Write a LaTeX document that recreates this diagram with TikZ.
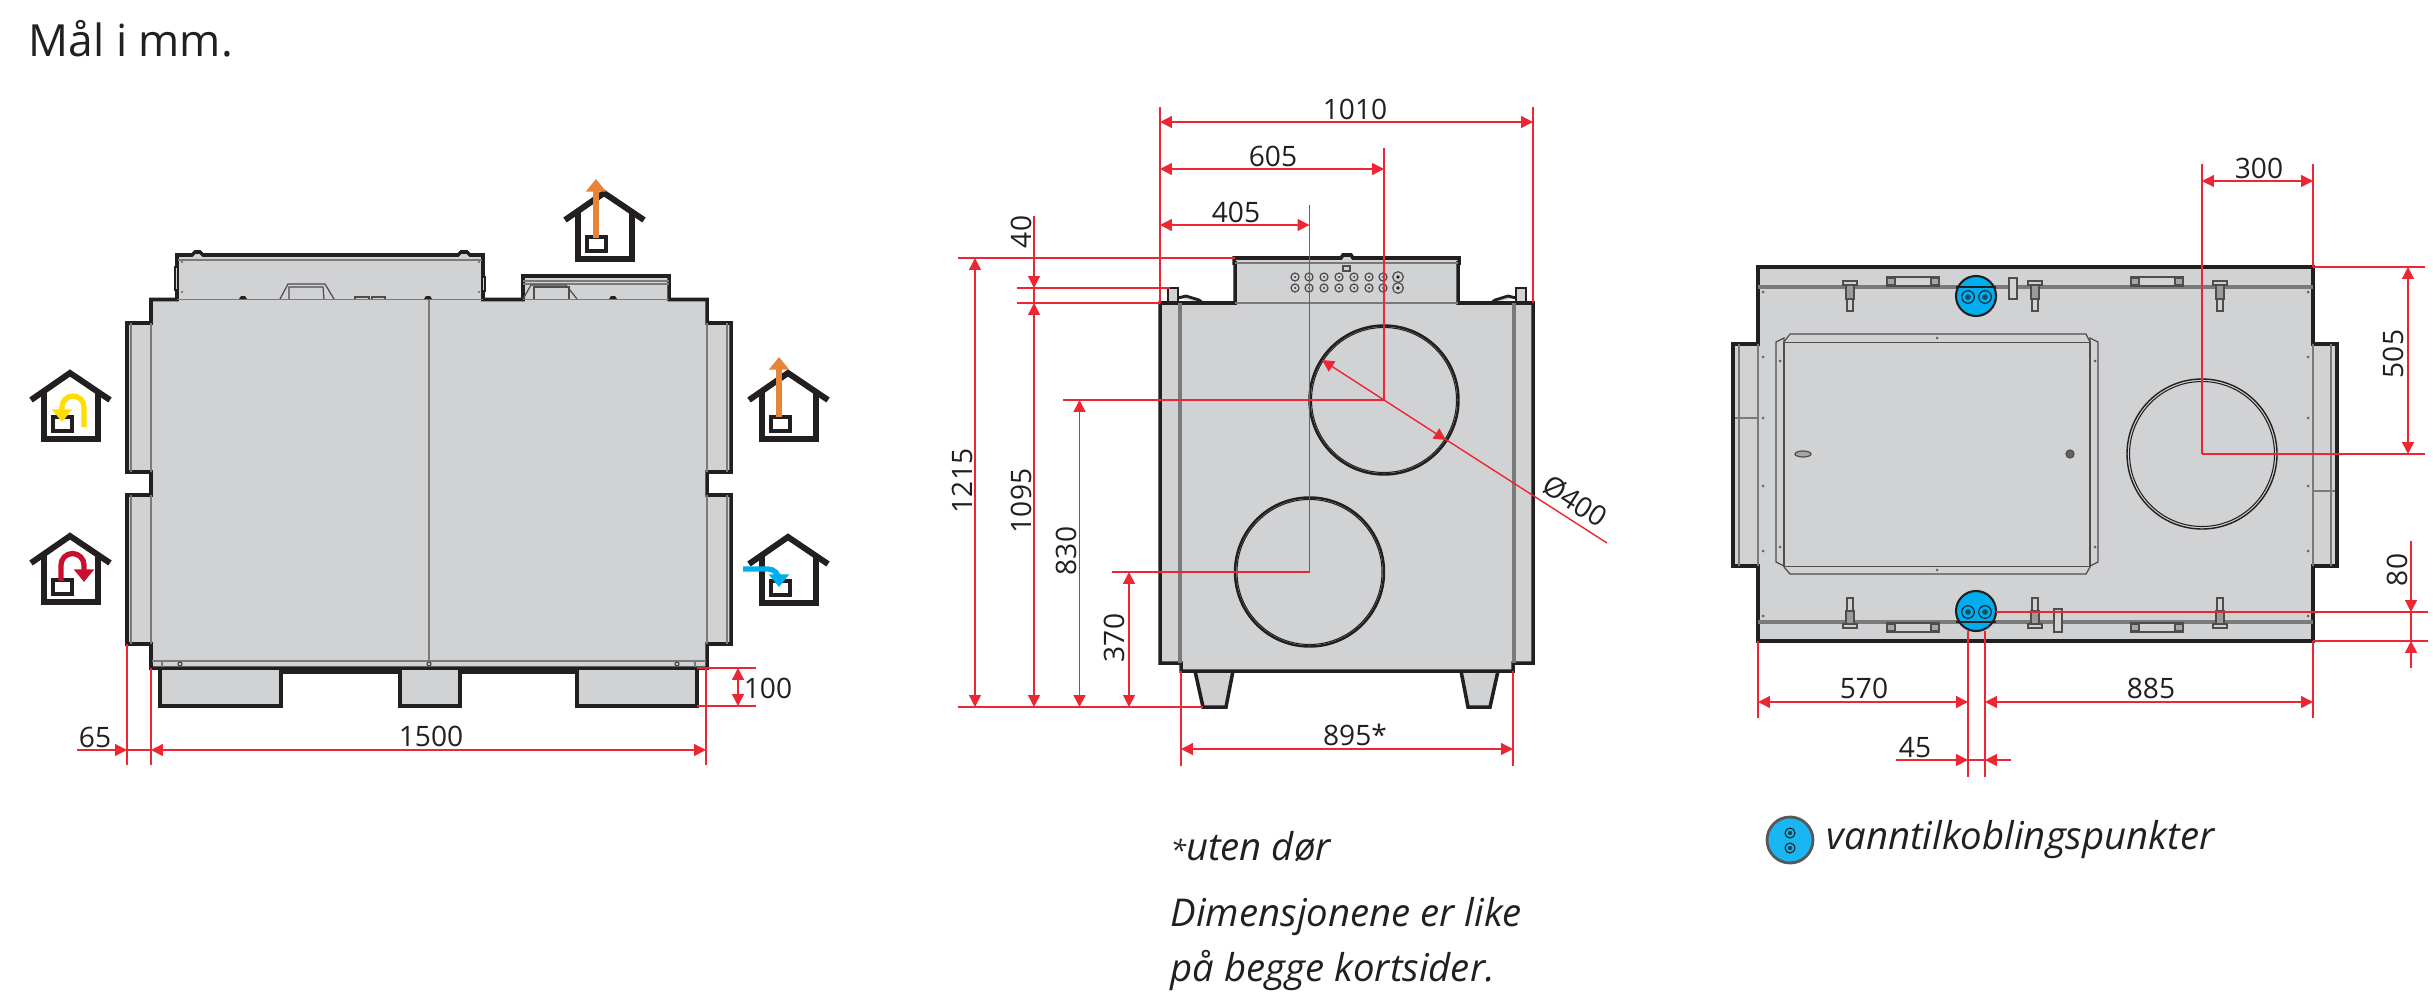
\documentclass[tikz,border=0pt]{standalone}
\usepackage{fontspec}
\setmainfont{Open Sans}
\usetikzlibrary{arrows.meta}
\definecolor{unitgray}{HTML}{D1D2D4}
\definecolor{unitline}{HTML}{231F20}
\definecolor{dimred}{HTML}{EE2533}
\definecolor{waterblue}{HTML}{00AEEF}
\definecolor{flowyellow}{HTML}{FFDD00}
\definecolor{floworange}{HTML}{E8833A}
\definecolor{flowcrimson}{HTML}{C8102E}
\tikzset{
	unit/.style={draw=unitline, fill=unitgray, line width=1pt, line join=miter},
	detail/.style={draw=unitline!80, line width=0.35pt},
	pale/.style={draw=unitline!60, line width=0.4pt},
	ext/.style={draw=dimred, line width=0.4pt},
	dim/.style={draw=dimred, line width=0.4pt, {Triangle[length=3.4pt,width=3.4pt]}-{Triangle[length=3.4pt,width=3.4pt]}},
	dimend/.style={draw=dimred, line width=0.4pt, -{Triangle[length=3.4pt,width=3.4pt]}},
	dimtext/.style={font=\fontsize{8}{10}\selectfont, text=unitline, inner sep=0pt},
	notetext/.style={font=\fontsize{10.9}{13}\selectfont\itshape, text=unitline, inner sep=0pt, anchor=west},
	flow/.style={line width=1.5pt, -{Triangle[length=3.6pt,width=5.6pt]}},
	house/.pic={
		\draw[line width=1.7pt, unitline] (-39,27) -- (0,0) -- (40,27);
		\draw[line width=1.7pt, unitline] (-26,18) -- (-26,66) -- (28,66) -- (28,18);
		\draw[line width=1.2pt, unitline, fill=white] (-17,44) rectangle (2,58);
	}
}
\begin{document}
\begin{tikzpicture}[x=0.01cm, y=-0.01cm]
	\useasboundingbox (0,0) rectangle (2433,1000);
	\node[font=\fontsize{12.6}{15}\selectfont, text=unitline, inner sep=0pt, anchor=west] (title) at (28,39) {Mål i mm.};

	% front view
	\draw[unit] (160,668) -- (160,706) -- (281,706) -- (281,672) -- (400,672) -- (400,706) -- (460,706) -- (460,672) -- (577,672) -- (577,706) -- (697,706) -- (697,668);
	\draw[unit] (151,299.5) -- (151,323) -- (127,323) -- (127,472) -- (151,472) -- (151,495) -- (127,495) -- (127,644) -- (151,644) -- (151,668) -- (707,668) -- (707,644) -- (731,644) -- (731,495) -- (707,495) -- (707,472) -- (731,472) -- (731,323) -- (707,323) -- (707,299.5) -- (669,299.5) -- (669,276) -- (523,276) -- (523,299.5) -- (483,299.5) -- (483,255) -- (470,255) -- (467,252) -- (461,252) -- (458,255) -- (203,255) -- (200,252) -- (195,252) -- (192,255) -- (177,255) -- (177,299.5) -- cycle;
	\foreach \ya/\yb in {323/472, 495/644} {
		\draw[pale] (151,\ya) -- (151,\yb);
		\draw[pale] (707,\ya) -- (707,\yb);
		\draw[pale] (131,\ya) -- (131,\yb);
		\draw[pale] (727,\ya) -- (727,\yb);
	}
	\draw[pale] (177,299.5) -- (483,299.5);
	\draw[pale] (523,299.5) -- (669,299.5);
	\draw[pale] (178,260) -- (482,260);
	\draw[pale] (523,281) -- (669,281);
	\draw[pale] (523,284) -- (669,284);
	\draw[pale] (429,299.5) -- (429,661);
	\draw[pale] (152,661) -- (706,661);
	\draw[pale] (162,661) -- (162,667);
	\draw[pale] (695,661) -- (695,667);
	\foreach \kx in {243,428,613} {
		\fill[unitline] (\kx-4,299) -- (\kx-2,296) -- (\kx+2,296) -- (\kx+4,299) -- cycle;
	}
	\foreach \kx in {180,429,677} {
		\draw[detail] (\kx,664) circle[radius=2];
	}
	\foreach \dx/\dy in {182/262, 182/292, 479/262, 479/292} {
		\fill[unitline!70] (\dx,\dy) circle[radius=1.2];
	}
	\draw[detail] (280,299) -- (288,284) -- (325,284) -- (334,299);
	\draw[detail] (289,299) -- (289,287) -- (323,287) -- (324,299);
	\draw[detail] (523,299) -- (531,285) -- (566,285) -- (577,299);
	\draw[detail] (534,299) -- (534,287) -- (569,287) -- (569,299);
	\draw[detail] (355,299) |- (369,297) -- (369,299);
	\draw[detail] (372,299) |- (385,297) -- (385,299);
	\draw[unit, line width=0.6pt] (175,267) rectangle (178,290);
	\draw[unit, line width=0.6pt] (482,277) rectangle (485,291);

	\draw[ext] (127,644) -- (127,765);
	\draw[ext] (151,668) -- (151,765);
	\draw[ext] (706,668) -- (706,765);
	\draw[ext] (697,668) -- (756,668);
	\draw[ext] (697,706) -- (756,706);
	\draw[dim] (738,668) -- (738,706);
	\draw[dimend] (77,750) -- (127,750);
	\draw[ext] (127,750) -- (151,750);
	\draw[dim] (151,750) -- (706,750);
	\node[dimtext] (dimA) at (95,737) {65};
	\node[dimtext] (dimB) at (431,736) {1500};
	\node[dimtext] (dimC) at (768,688) {100};

	% houses
	\pic at (604,193) {house};
	\pic at (70,373) {house};
	\pic at (70,536) {house};
	\pic at (788,373) {house};
	\pic at (788,537) {house};
	\draw[flow, floworange] (596,238) -- (596,179);
	\draw[flow, floworange] (779,417) -- (779,357);
	\draw[flow, flowyellow] (84,427) -- (84,407) arc[start angle=0, end angle=-180, radius=11] -- (62,422);
	\draw[flow, flowcrimson] (61,581) -- (61,565) arc[start angle=180, end angle=360, radius=11.5] -- (84,582);
	\draw[flow, waterblue] (743,569) -- (768,569) arc[start angle=-90, end angle=0, radius=11] -- (779,587);

	% side view
	\draw[unit, line width=0.8pt] (1168,303) -- (1168,288) -- (1178,288) -- (1178,303);
	\draw[unit, line width=0.8pt] (1526,303) -- (1526,288) -- (1516,288) -- (1516,303);
	\draw[unit, line width=0.8pt] (1178,298) -- (1186,296) -- (1199,300) -- (1203,303);
	\draw[unit, line width=0.8pt] (1516,298) -- (1508,296) -- (1495,300) -- (1491,303);
	\draw[unit] (1195,671) -- (1203,707) -- (1226,707) -- (1233,671);
	\draw[unit] (1461,671) -- (1468,707) -- (1490,707) -- (1498,671);
	\draw[unit] (1160,303) -- (1160,663) -- (1181,663) -- (1181,671) -- (1513,671) -- (1513,663) -- (1533,663) -- (1533,303) -- (1458,303) -- (1458,263) -- (1459,263) -- (1459,258) -- (1353,258) -- (1351,255) -- (1343,255) -- (1341,258) -- (1234,258) -- (1234,263) -- (1235,263) -- (1235,303) -- cycle;
	\draw[pale] (1235,303) -- (1458,303);
	\draw[pale] (1235,263) -- (1458,263);
	\foreach \px in {1179,1181,1513,1515} {
		\draw[pale] (\px,303) -- (\px,663);
	}
	\draw[detail] (1343,266) rectangle (1350,271);
	\foreach \cy in {277,288} {
		\foreach \cx in {1295,1309,1324,1339,1354,1369,1383} {
			\draw[detail] (\cx,\cy) circle[radius=4];
			\fill[unitline] (\cx,\cy) circle[radius=1];
		}
		\draw[detail] (1398,\cy) circle[radius=5.3];
		\fill[unitline] (1398,\cy) circle[radius=1.8];
	}
	\draw[line width=0.7pt, unitline] (1384,400) circle[radius=74.5];
	\draw[line width=0.7pt, unitline] (1309.5,572) circle[radius=74.5];
	\draw[line width=0.3pt, unitline] (1384,400) circle[radius=72.5];
	\draw[line width=0.3pt, unitline] (1309.5,572) circle[radius=72.5];

	\draw[ext] (1160,107) -- (1160,303);
	\draw[ext] (1533,107) -- (1533,303);
	\draw[ext] (1384,148) -- (1384,400);
	\draw[ext] (1309.5,205) -- (1309.5,572);
	\draw[ext] (958,258) -- (1235,258);
	\draw[ext] (1017,288) -- (1170,288);
	\draw[ext] (1017,303) -- (1160,303);
	\draw[ext] (1063,400) -- (1384,400);
	\draw[ext] (1112,572) -- (1309.5,572);
	\draw[ext] (958,707) -- (1203,707);
	\draw[ext] (1181,671) -- (1181,766);
	\draw[ext] (1513,671) -- (1513,766);
	\draw[ext] (1445,439) -- (1607,543);
	\draw[dim] (1160,122) -- (1533,122);
	\draw[dim] (1160,169) -- (1384,169);
	\draw[dim] (1160,225) -- (1309.5,225);
	\draw[dim] (975,258) -- (975,707);
	\draw[dimend] (1034,216) -- (1034,288);
	\draw[ext] (1034,288) -- (1034,303);
	\draw[dim] (1034,303) -- (1034,707);
	\draw[dim] (1079.5,400) -- (1079.5,707);
	\draw[dim] (1129,572) -- (1129,707);
	\draw[dim] (1181,749) -- (1513,749);
	\draw[dim] (1322,360) -- (1446,440);
	\node[dimtext] (dimD) at (1355,109) {1010};
	\node[dimtext] (dimE) at (1273,156) {605};
	\node[dimtext] (dimF) at (1236,212) {405};
	\node[dimtext, rotate=90] (dimG) at (1021,232) {40};
	\node[dimtext, rotate=90] (dimH) at (962,481) {1215};
	\node[dimtext, rotate=90] (dimI) at (1021,501) {1095};
	\node[dimtext, rotate=90] (dimJ) at (1066,551) {830};
	\node[dimtext, rotate=90] (dimK) at (1114,638) {370};
	\node[dimtext] (dimL) at (1355,735) {895*};
	\node[dimtext, rotate=-33] (dimM) at (1575,501) {Ø400};

	% top view
	\draw[unit] (1758,267) -- (2313,267) -- (2313,344) -- (2337,344) -- (2337,566) -- (2313,566) -- (2313,641) -- (1758,641) -- (1758,566) -- (1733,566) -- (1733,344) -- (1758,344) -- cycle;
	\foreach \px in {1739,1758,2313,2331} {
		\draw[pale] (\px,344) -- (\px,566);
	}
	\draw[pale] (1735,418) -- (1758,418);
	\draw[pale] (2313,491) -- (2335,491);
	\draw[pale, line width=1pt] (1758,287) -- (2313,287);
	\draw[pale, line width=1pt] (1758,622) -- (2313,622);
	\draw[detail] (1776,342) -- (1784,338) -- (1784,566) -- (1776,562) -- cycle;
	\draw[detail] (2098,342) -- (2090,338) -- (2090,566) -- (2098,562) -- cycle;
	\draw[detail] (1784,342) -- (1790,334) -- (2086,334) -- (2090,342);
	\draw[detail] (1784,567) -- (1790,574) -- (2086,574) -- (2090,567);
	\draw[detail] (1784,342.5) rectangle (2090,566.5);
	\draw[line width=0.4pt, unitline] (2202,454) circle[radius=75];
	\draw[line width=0.3pt, unitline] (2202,454) circle[radius=72.5];
	\draw[detail, fill=unitline!40] (1803,454) ellipse[x radius=8, y radius=3];
	\draw[detail, fill=unitline!70] (2070,454) circle[radius=4];
	\foreach \dx in {1763,2308} {
		\foreach \dy in {357,418,486,551} {
			\fill[unitline!70] (\dx,\dy) circle[radius=1.5];
		}
		\fill[unitline!70] (\dx,292) circle[radius=1.5];
		\fill[unitline!70] (\dx,616) circle[radius=1.5];
	}
	\foreach \dx/\dy in {1780/361, 1780/547, 2095/361, 2095/547, 1937/338, 1937/570} {
		\fill[unitline!70] (\dx,\dy) circle[radius=1.5];
	}
	\foreach \lx in {1850,2035,2220} {
		\draw[detail, fill=unitgray] (\lx-7,281) rectangle (\lx+7,285);
		\draw[detail, fill=unitline!45] (\lx-4,285) rectangle (\lx+4,299);
		\draw[detail, fill=unitgray] (\lx-3,299) rectangle (\lx+3,311);
		\draw[detail, fill=unitgray] (\lx-3,598) rectangle (\lx+3,611);
		\draw[detail, fill=unitline!45] (\lx-4,611) rectangle (\lx+4,624);
		\draw[detail, fill=unitgray] (\lx-7,624) rectangle (\lx+7,628);
	}
	\foreach \px in {1887,2131} {
		\draw[detail] (\px,277) rectangle (\px+52,286);
		\draw[detail] (\px,623) rectangle (\px+52,632);
		\foreach \sx in {0,44} {
			\draw[detail, fill=unitline!40] (\px+\sx,278) rectangle (\px+\sx+8,285);
			\draw[detail, fill=unitline!40] (\px+\sx,624) rectangle (\px+\sx+8,631);
		}
	}
	\draw[detail, fill=unitgray] (2009,278) rectangle (2017,299);
	\draw[detail, fill=unitgray] (2054,609) rectangle (2062,632);
	\foreach \wy in {296,611} {
		\draw[fill=waterblue, draw=unitline, line width=0.6pt] (1976,\wy) circle[radius=20];
		\draw[unitline, line width=0.3pt] (1968,\wy+1) circle[radius=6.3];
		\draw[unitline, line width=0.3pt] (1985,\wy+1) circle[radius=6.3];
		\fill[unitline!70!waterblue] (1968,\wy+1) circle[radius=2.8];
		\fill[unitline!70!waterblue] (1985,\wy+1) circle[radius=2.8];
	}
	\draw[unitline, line width=0.4pt] (1956,287) -- (1996,287);
	\draw[unitline, line width=0.4pt] (1956,622) -- (1996,622);

	\draw[ext] (2202,164) -- (2202,454);
	\draw[ext] (2313,164) -- (2313,267);
	\draw[ext] (2313,267) -- (2425,267);
	\draw[ext] (2202,454) -- (2425,454);
	\draw[ext] (1996,612) -- (2428,612);
	\draw[ext] (2313,641) -- (2428,641);
	\draw[ext] (1758,641) -- (1758,718);
	\draw[ext] (2313,641) -- (2313,718);
	\draw[ext] (1968,631) -- (1968,777);
	\draw[ext] (1985,631) -- (1985,777);
	\draw[dim] (2202,181) -- (2313,181);
	\draw[dim] (2408,267) -- (2408,454);
	\draw[dimend] (2411,541) -- (2411,612);
	\draw[dimend] (2411,668) -- (2411,641);
	\draw[ext] (2411,612) -- (2411,641);
	\draw[dim] (1758,702) -- (1968,702);
	\draw[dim] (1985,702) -- (2313,702);
	\draw[dimend] (1896,760) -- (1968,760);
	\draw[dimend] (2011,760) -- (1985,760);
	\draw[ext] (1968,760) -- (1985,760);
	\node[dimtext] (dimN) at (2259,168) {300};
	\node[dimtext, rotate=90] (dimO) at (2393,354) {505};
	\node[dimtext, rotate=90] (dimP) at (2397,570) {80};
	\node[dimtext] (dimQ) at (1864,688) {570};
	\node[dimtext] (dimR) at (2151,688) {885};
	\node[dimtext] (dimS) at (1915,748) {45};

	% notes
	\draw[fill=waterblue!90!white, draw=unitline!75, line width=0.8pt] (1790,840) circle[radius=23];
	\foreach \wy in {833,848} {
		\draw[unitline, line width=0.3pt] (1790,\wy) circle[radius=5];
		\fill[unitline!70!waterblue] (1790,\wy) circle[radius=2.2];
	}
	\node[notetext] (legend) at (1826,840) {vanntilkoblingspunkter};
	\node[notetext] (noteA) at (1170,847) {{\fontsize{8}{8}\selectfont *}uten dør};
	\node[notetext] (noteB) at (1170,917) {Dimensjonene er like};
	\node[notetext] (noteC) at (1170,970) {på begge kortsider.};
\end{tikzpicture}
\end{document}
